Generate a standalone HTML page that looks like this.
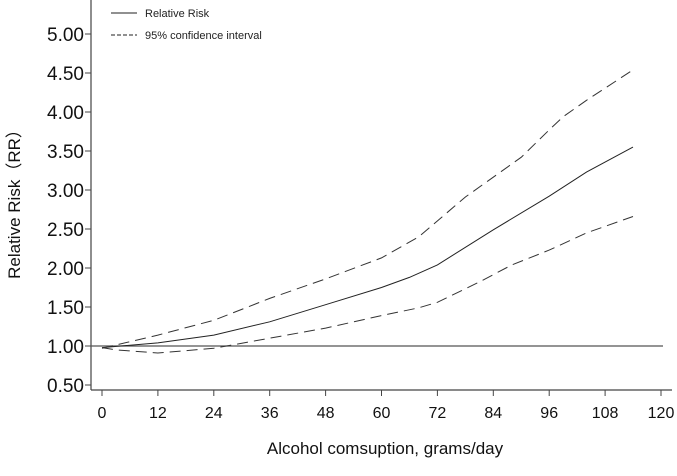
<!DOCTYPE html>
<html><head><meta charset="utf-8"><style>
body{margin:0;background:#fff;}
svg{display:block;font-family:"Liberation Sans","Noto Sans CJK SC",sans-serif;}
</style></head><body>
<svg id="chart" width="677" height="476" viewBox="0 0 677 476">
<g id="axes"></g>
<g id="series"></g>
<g>
<line x1="111" y1="13" x2="137" y2="13" stroke="#222" stroke-width="1"/>
<text x="145" y="17" font-size="11" fill="#222">Relative Risk</text>
<line x1="111" y1="35" x2="137" y2="35" stroke="#222" stroke-width="1" stroke-dasharray="4,2"/>
<text x="145" y="39" font-size="11" fill="#222">95% confidence interval</text>
</g>
<text x="385" y="454" font-size="17" text-anchor="middle" fill="#111">Alcohol comsuption, grams/day</text>
<text transform="translate(20,200) rotate(-90)" font-size="17" text-anchor="middle" fill="#111">Relative Risk（RR）</text>
</svg>
<script>
const xTicks=[0,12,24,36,48,60,72,84,96,108,120];
const yTicks=[0.5,1,1.5,2,2.5,3,3.5,4,4.5,5];
const rrX=[0,12,24,36,48,60,66,72,84,96,104,114];
const rrY=[0.98,1.04,1.14,1.31,1.53,1.75,1.88,2.04,2.49,2.92,3.23,3.55];
const upX=[0,12,24,36,48,60,68,78,90,96,99,104,114];
const upY=[0.97,1.14,1.33,1.61,1.86,2.13,2.40,2.91,3.42,3.77,3.94,4.15,4.54];
const loX=[0,3,12,24,36,48,60,68,72,81,88,96,104,114];
const loY=[0.98,0.95,0.91,0.97,1.1,1.23,1.39,1.49,1.56,1.82,2.04,2.23,2.45,2.66];
const NS='http://www.w3.org/2000/svg';
const X=v=>102+v*(661-102)/120;
const Y=v=>346-(v-1)*78;
function mk(t,a,p){const e=document.createElementNS(NS,t);for(const k in a)e.setAttribute(k,a[k]);p.appendChild(e);return e;}
const ax=document.getElementById('axes');
const yl=mk('line',{x1:91,y1:0,x2:91,y2:390,stroke:'#444','stroke-width':1.2},ax);


const xl=mk('line',{x1:91,y1:390,x2:672,y2:390,stroke:'#444','stroke-width':1.2},ax);


xTicks.forEach(t=>{
 mk('line',{x1:X(t),y1:390,x2:X(t),y2:396,stroke:'#444'},ax);
 const tx=mk('text',{x:X(t),y:418,'font-size':16,'text-anchor':'middle',fill:'#111'},ax);
 tx.textContent=t;
 
 
});
yTicks.forEach(t=>{
 mk('line',{x1:85,y1:Y(t),x2:91,y2:Y(t),stroke:'#444'},ax);
 const tx=mk('text',{x:84,y:Y(t)+7,'font-size':19,'text-anchor':'end',fill:'#111'},ax);
 tx.textContent=t.toFixed(2);
 
 
});
const ref=mk('line',{x1:91,y1:Y(1),x2:663,y2:Y(1),stroke:'#555','stroke-width':1.3},ax);


const sg=document.getElementById('series');
function pts(xs,ys){return xs.map((x,i)=>X(x).toFixed(1)+','+Y(ys[i]).toFixed(1)).join(' ');}
const l1=mk('polyline',{points:pts(rrX,rrY),fill:'none',stroke:'#222','stroke-width':1},sg);


const l2=mk('polyline',{points:pts(upX,upY),fill:'none',stroke:'#333','stroke-width':1,'stroke-dasharray':'11,6'},sg);


const l3=mk('polyline',{points:pts(loX,loY),fill:'none',stroke:'#333','stroke-width':1,'stroke-dasharray':'11,6'},sg);


</script>
</body></html>
